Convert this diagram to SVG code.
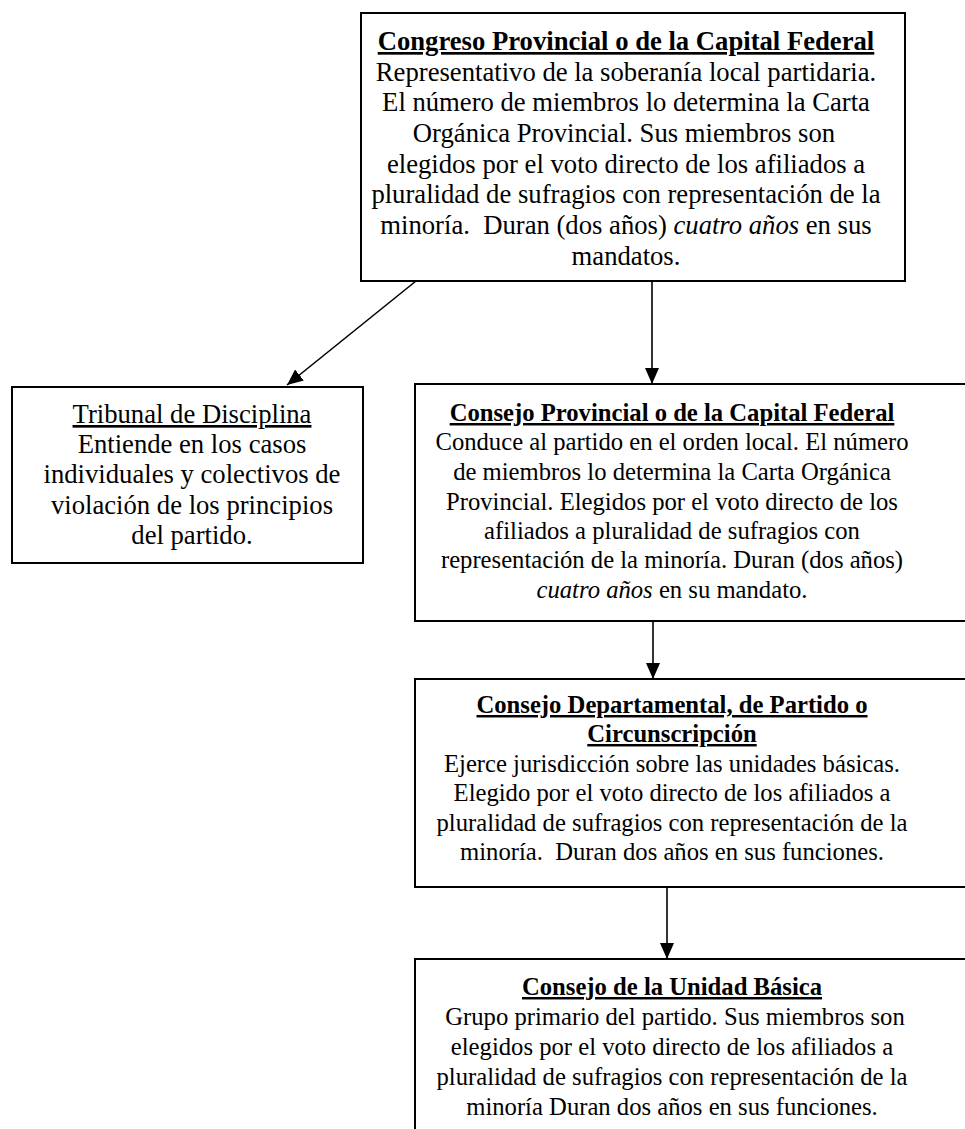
<svg xmlns="http://www.w3.org/2000/svg" width="965" height="1129" viewBox="0 0 965 1129">
  <defs>
    <marker id="arrowhead" markerUnits="userSpaceOnUse" markerWidth="16" markerHeight="14" refX="16" refY="7" orient="auto">
      <path d="M0,0 L16,7 L0,14 z" fill="#000"/>
    </marker>
    <style>
      .box { fill: #fff; stroke: #000; stroke-width: 2; }
      .t { font-family: "Liberation Serif", "Times New Roman", serif; fill: #000; text-anchor: middle; }
      .lg { font-size: 26.67px; }
      .sm { font-size: 24.67px; }
      .head { font-weight: bold; text-decoration: underline; }
      .uline { text-decoration: underline; }
      .it { font-style: italic; }
      .conn { stroke: #000; stroke-width: 1.6; fill: none; marker-end: url(#arrowhead); }
    </style>
  </defs>
  <rect width="965" height="1129" fill="#fff"/>

  <!-- connectors -->
  <g id="connectors">
    <line class="conn" x1="416" y1="281" x2="287" y2="385"/>
    <line class="conn" x1="652" y1="282" x2="652" y2="384"/>
    <line class="conn" x1="653" y1="621" x2="653" y2="679"/>
    <line class="conn" x1="667" y1="887" x2="667" y2="959"/>
  </g>

  <!-- Congreso Provincial -->
  <g id="congreso">
    <rect class="box" x="361" y="13" width="544" height="268"/>
    <text class="t lg head" x="626" y="50">Congreso Provincial o de la Capital Federal</text>
    <text class="t lg" x="626" y="80.7">Representativo de la soberanía local partidaria.</text>
    <text class="t lg" x="626" y="111.3">El número de miembros lo determina la Carta</text>
    <text class="t lg" x="624" y="142">Orgánica Provincial. Sus miembros son</text>
    <text class="t lg" x="626" y="172.7">elegidos por el voto directo de los afiliados a</text>
    <text class="t lg" x="626" y="203.3">pluralidad de sufragios con representación de la</text>
    <text class="t lg" x="626" y="234" xml:space="preserve">minoría.  Duran (dos años) <tspan class="it">cuatro años</tspan> en sus</text>
    <text class="t lg" x="626" y="264.7">mandatos.</text>
  </g>

  <!-- Tribunal de Disciplina -->
  <g id="tribunal">
    <rect class="box" x="12" y="387" width="351" height="176"/>
    <text class="t lg uline" x="192" y="423">Tribunal de Disciplina</text>
    <text class="t lg" x="192" y="453">Entiende en los casos</text>
    <text class="t lg" x="192" y="483">individuales y colectivos de</text>
    <text class="t lg" x="192" y="514">violación de los principios</text>
    <text class="t lg" x="192" y="544">del partido.</text>
  </g>

  <!-- Consejo Provincial -->
  <g id="consejo-provincial">
    <rect class="box" x="415" y="384" width="570" height="237"/>
    <text class="t sm head" x="672" y="421">Consejo Provincial o de la Capital Federal</text>
    <text class="t sm" x="672" y="450">Conduce al partido en el orden local. El número</text>
    <text class="t sm" x="672" y="480">de miembros lo determina la Carta Orgánica</text>
    <text class="t sm" x="672" y="510">Provincial. Elegidos por el voto directo de los</text>
    <text class="t sm" x="672" y="539">afiliados a pluralidad de sufragios con</text>
    <text class="t sm" x="672" y="568">representación de la minoría. Duran (dos años)</text>
    <text class="t sm" x="672" y="598"><tspan class="it">cuatro años</tspan> en su mandato.</text>
  </g>

  <!-- Consejo Departamental -->
  <g id="consejo-departamental">
    <rect class="box" x="415" y="679" width="570" height="208"/>
    <text class="t sm head" x="672" y="713">Consejo Departamental, de Partido o</text>
    <text class="t sm head" x="672" y="742">Circunscripción</text>
    <text class="t sm" x="672" y="772">Ejerce jurisdicción sobre las unidades básicas.</text>
    <text class="t sm" x="672" y="801">Elegido por el voto directo de los afiliados a</text>
    <text class="t sm" x="672" y="831">pluralidad de sufragios con representación de la</text>
    <text class="t sm" x="672" y="860" xml:space="preserve">minoría.  Duran dos años en sus funciones.</text>
  </g>

  <!-- Consejo de la Unidad Básica -->
  <g id="unidad-basica">
    <rect class="box" x="415" y="959" width="570" height="200"/>
    <text class="t sm head" x="672" y="995">Consejo de la Unidad Básica</text>
    <text class="t sm" x="675" y="1025">Grupo primario del partido. Sus miembros son</text>
    <text class="t sm" x="672" y="1055">elegidos por el voto directo de los afiliados a</text>
    <text class="t sm" x="672" y="1085">pluralidad de sufragios con representación de la</text>
    <text class="t sm" x="672" y="1115">minoría Duran dos años en sus funciones.</text>
  </g>
</svg>
